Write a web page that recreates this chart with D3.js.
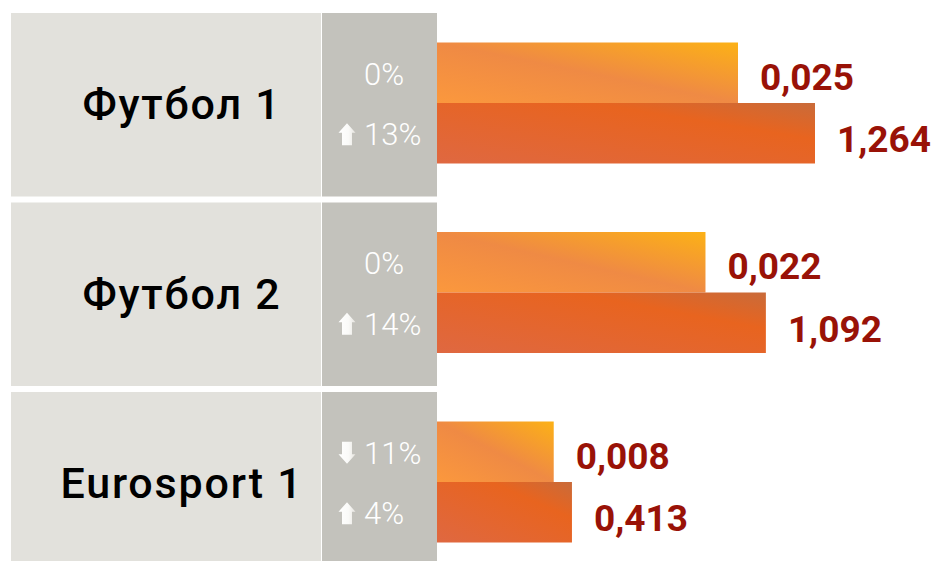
<!DOCTYPE html>
<html>
<head>
<meta charset="utf-8">
<script src="https://cdn.jsdelivr.net/npm/d3@7"></script>
<style>
  body { margin: 0; background: #fff; }
  svg { display: block; font-family: Roboto, "Noto Sans", sans-serif; }
</style>
</head>
<body>
<div class="chart"></div>
<script>
// data
var channels = ["Футбол 1", "Футбол 2", "Eurosport 1"];
var shareValues = [0.025, 0.022, 0.008];
var ratingValues = [1.264, 1.092, 0.413];
var shareChange = ["0%", "0%", "11%"];
var shareDir = [0, 0, -1];
var ratingChange = ["13%", "14%", "4%"];
var ratingDir = [1, 1, 1];

var svgWidth = 935;
var svgHeight = 561;

var svg = d3.select(".chart")
  .append("svg")
  .attr("width", svgWidth)
  .attr("height", svgHeight);

var defs = svg.append("defs");

var g1 = defs.append("linearGradient")
  .attr("id", "gradShare")
  .attr("x1", "0").attr("y1", "1").attr("x2", "1").attr("y2", "0");
g1.append("stop").attr("offset", "0").attr("stop-color", "#fb983d");
g1.append("stop").attr("offset", "0.5").attr("stop-color", "#ef8a44");
g1.append("stop").attr("offset", "1").attr("stop-color", "#fcb116");

var g2 = defs.append("linearGradient")
  .attr("id", "gradRating")
  .attr("x1", "0").attr("y1", "1").attr("x2", "1").attr("y2", "0");
g2.append("stop").attr("offset", "0").attr("stop-color", "#df6841");
g2.append("stop").attr("offset", "0.7").attr("stop-color", "#e8641f");
g2.append("stop").attr("offset", "1").attr("stop-color", "#c96b3a");

var g3 = defs.append("linearGradient")
  .attr("id", "gradArrow")
  .attr("x1", "0").attr("y1", "0").attr("x2", "1").attr("y2", "0");
g3.append("stop").attr("offset", "0").attr("stop-color", "#ffffff");
g3.append("stop").attr("offset", "0.6").attr("stop-color", "#fafaf8");
g3.append("stop").attr("offset", "1").attr("stop-color", "#e6e4df");

// layout
var leftX = 11, midX = 322, barX = 437;

var y = d3.scaleBand()
  .domain(channels)
  .range([13, 13 + 3 * 189.5]);

var sub = d3.scaleBand()
  .domain(["share", "rating"])
  .range([29.5, 150.5]);

var xShare = d3.scaleLinear().domain([0, 0.025]).range([30, 301]);
var xRating = d3.scaleLinear().domain([0, 1.264]).range([17, 378]);

var ru = d3.formatLocale({decimal: ",", thousands: " ", grouping: [3], currency: ["", ""]});
var fmt = ru.format(".3f");

var rows = svg.selectAll("g.row")
  .data(channels)
  .enter()
  .append("g")
  .attr("class", "row")
  .attr("transform", d => `translate(0, ${y(d)})`);

var rowH = y.step() - 6;

rows.append("rect")
  .attr("x", leftX)
  .attr("width", midX - 1 - leftX)
  .attr("height", rowH)
  .attr("fill", "#e2e1dc");

rows.append("rect")
  .attr("x", midX)
  .attr("width", barX - midX)
  .attr("height", rowH)
  .attr("fill", "#c3c2bc");

rows.append("text")
  .attr("x", 182)
  .attr("y", sub("share") + sub.bandwidth() + 16)
  .attr("text-anchor", "middle")
  .attr("font-size", 43)
  .attr("font-weight", 500)
  .attr("letter-spacing", 1.8)
  .attr("fill", "#000")
  .text(d => d);

// bars
rows.append("rect")
  .attr("x", barX)
  .attr("y", sub("share"))
  .attr("width", (d, i) => xShare(shareValues[i]))
  .attr("height", sub.bandwidth())
  .attr("fill", "url(#gradShare)");

rows.append("rect")
  .attr("x", barX)
  .attr("y", sub("rating"))
  .attr("width", (d, i) => xRating(ratingValues[i]))
  .attr("height", sub.bandwidth())
  .attr("fill", "url(#gradRating)");

// value labels
rows.append("text")
  .attr("x", (d, i) => barX + xShare(shareValues[i]) + 22)
  .attr("y", sub("share") + sub.bandwidth() / 2 + 17)
  .attr("font-size", 37)
  .attr("font-weight", 700)
  .attr("fill", "#991207")
  .text((d, i) => fmt(shareValues[i]));

rows.append("text")
  .attr("x", (d, i) => barX + xRating(ratingValues[i]) + 22)
  .attr("y", sub("rating") + sub.bandwidth() / 2 + 19)
  .attr("font-size", 37)
  .attr("font-weight", 700)
  .attr("fill", "#991207")
  .text((d, i) => fmt(ratingValues[i]));

// change column
var upArrow = "M0,-22 L8.5,-12.5 L5,-12.5 L5,0 L-5,0 L-5,-12.5 L-8.5,-12.5 Z";
var downArrow = "M0,0 L8.5,-9.5 L5,-9.5 L5,-22 L-5,-22 L-5,-9.5 L-8.5,-9.5 Z";

function addChange(key, labels, dirs) {
  var base = sub(key) + sub.bandwidth() / 2 + 12;
  rows.append("text")
    .attr("x", 364)
    .attr("y", base)
    .attr("font-size", 31)
    .attr("font-weight", 300)
    .attr("fill", "#ffffff")
    .text((d, i) => labels[i]);

  rows.filter((d, i) => dirs[i] !== 0)
    .append("path")
    .attr("d", d => dirs[channels.indexOf(d)] > 0 ? upArrow : downArrow)
    .attr("transform", `translate(347, ${base})`)
    .attr("fill", "url(#gradArrow)");
}

addChange("share", shareChange, shareDir);
addChange("rating", ratingChange, ratingDir);
</script>
</body>
</html>
